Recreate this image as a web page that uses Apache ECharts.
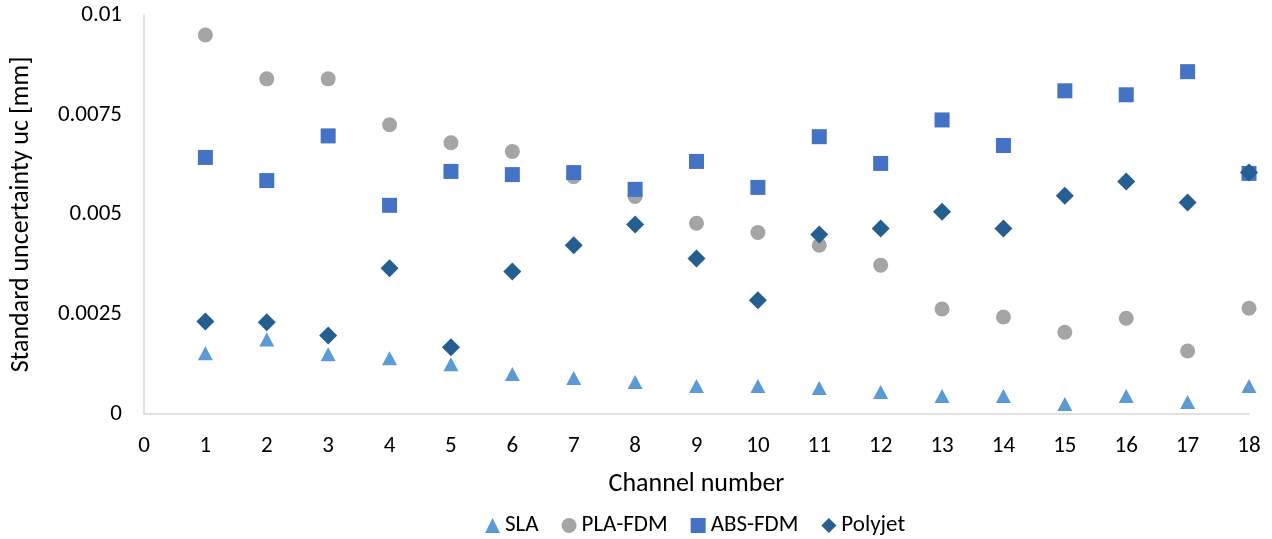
<!DOCTYPE html>
<html>
<head>
<meta charset="utf-8">
<script src="https://cdn.jsdelivr.net/npm/echarts@6/dist/echarts.min.js"></script>
<style>
html,body{margin:0;padding:0;background:#fff;}
#chart{width:1272px;height:539px;}
</style>
</head>
<body>
<div id="chart"></div>
<script>
// Channel numbers 1..18
const channels = [1,2,3,4,5,6,7,8,9,10,11,12,13,14,15,16,17,18];
// Standard uncertainty uc [mm] per process
const sla = [0.00152,0.00187,0.0015,0.0014,0.00125,0.001,0.0009,0.0008,0.0007,0.0007,0.00065,0.00055,0.00045,0.00045,0.00025,0.00045,0.0003,0.0007];
const plaFdm = [0.0095,0.0084,0.0084,0.00725,0.0068,0.00658,0.00595,0.00545,0.00478,0.00455,0.00423,0.00373,0.00263,0.00243,0.00205,0.0024,0.00158,0.00265];
const absFdm = [0.00643,0.00585,0.00697,0.00523,0.00608,0.006,0.00605,0.00563,0.00633,0.00568,0.00695,0.00628,0.00737,0.00673,0.0081,0.008,0.00858,0.00603];
const polyjet = [0.00232,0.0023,0.00197,0.00365,0.00167,0.00357,0.00423,0.00475,0.0039,0.00285,0.0045,0.00465,0.00507,0.00465,0.00547,0.00583,0.0053,0.00605];
const yTicks = [0,0.0025,0.005,0.0075,0.01];

const FONT = 'Carlito, Lato, "Noto Sans", sans-serif';
const pairs = arr => channels.map((c,i)=>[c, arr[i]]);

const series = [
  {name:'SLA', data:pairs(sla), symbol:'triangle', symbolSize:[15,14], color:'#5B9BD5'},
  {name:'PLA-FDM', data:pairs(plaFdm), symbol:'circle', symbolSize:15, color:'#A5A5A5'},
  {name:'ABS-FDM', data:pairs(absFdm), symbol:'rect', symbolSize:15, color:'#4472C4'},
  {name:'Polyjet', data:pairs(polyjet), symbol:'diamond', symbolSize:[18,18], color:'#255E91'}
].map(s => ({type:'scatter', name:s.name, data:s.data, symbol:s.symbol, symbolSize:s.symbolSize,
  itemStyle:{color:s.color, opacity:1}, emphasis:{disabled:true}}));

const chart = echarts.init(document.getElementById('chart'), null, {renderer:'canvas'});
chart.setOption({
  animation:false,
  backgroundColor:'#fff',
  grid:{left:144, right:23, top:15, bottom:125, containLabel:false},
  xAxis:{
    type:'value', min:0, max:18, interval:1,
    name:'Channel number', nameLocation:'middle', nameGap:57,
    nameTextStyle:{fontFamily:FONT, fontSize:26, color:'#000'},
    axisLine:{show:true, lineStyle:{color:'#D9D9D9', width:1.5}},
    axisTick:{show:false},
    splitLine:{show:false},
    axisLabel:{fontFamily:FONT, fontSize:23, color:'#000', margin:21}
  },
  yAxis:{
    type:'value', min:0, max:0.01, interval:0.0025,
    name:'Standard uncertainty uc [mm]', nameLocation:'middle', nameGap:110,
    nameTextStyle:{fontFamily:FONT, fontSize:26, color:'#000'},
    axisLine:{show:true, lineStyle:{color:'#D9D9D9', width:1.5}},
    axisTick:{show:false},
    splitLine:{show:false},
    axisLabel:{fontFamily:FONT, fontSize:23, color:'#000', margin:22,
      formatter: v => { const t = yTicks.find(x => Math.abs(x - v) < 1e-9); return t === undefined ? '' : String(t); }}
  },
  legend:{
    top:509, left:480, itemGap:23, itemWidth:15, itemHeight:15,
    textStyle:{fontFamily:FONT, fontSize:23, color:'#000'},
    data:['SLA','PLA-FDM','ABS-FDM','Polyjet']
  },
  series: series
});
</script>
</body>
</html>
